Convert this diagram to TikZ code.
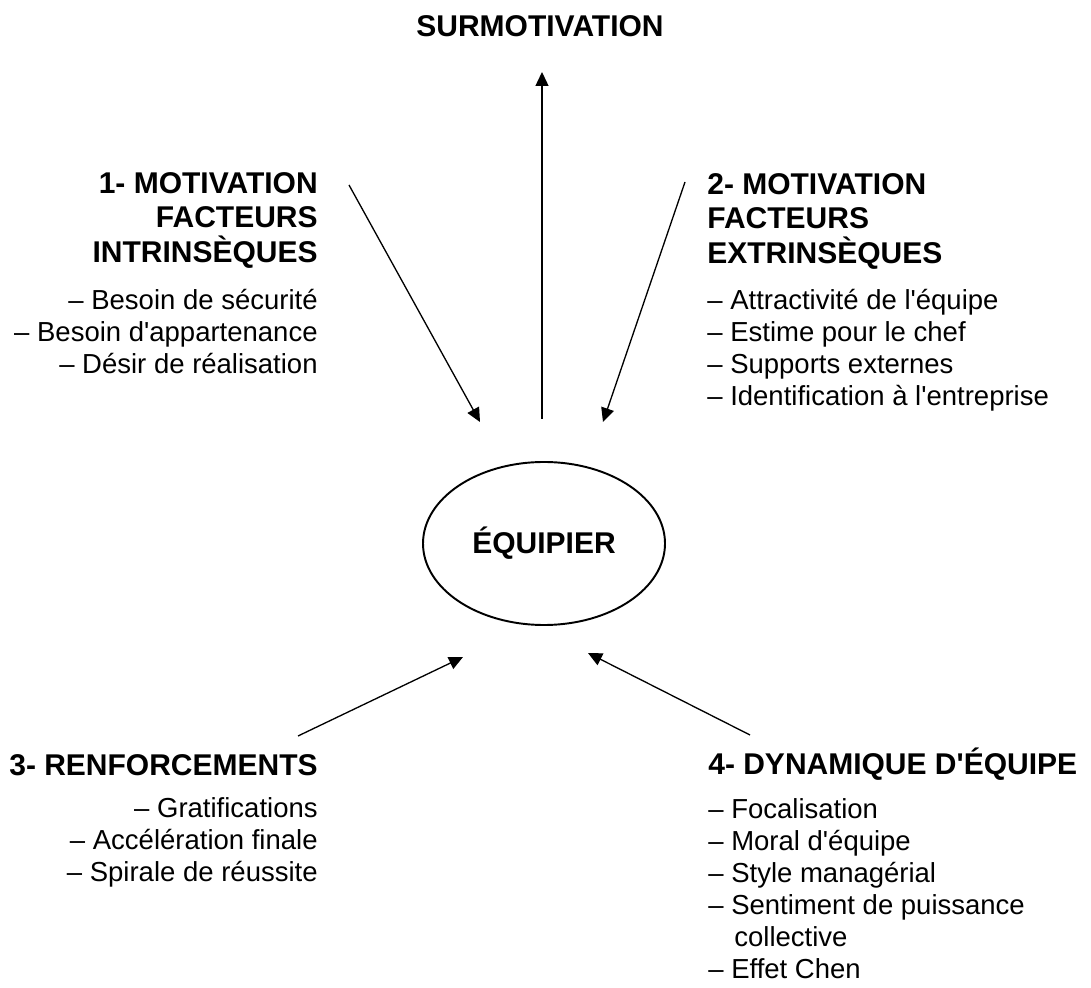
\documentclass[tikz,border=0pt]{standalone}
\usepackage{fontspec}
\setmainfont{Liberation Sans}[Ligatures=TeXOff]
\usepackage{tikz}
\usetikzlibrary{positioning,shapes,arrows.meta}
\tikzstyle{ell}=[draw, ellipse, minimum width = 4.84cm, minimum height = 3.26cm, inner sep = 0pt, line width = 1.1pt, font = \bfseries\fontsize{17.07}{19.63}\selectfont]
\tikzstyle{head}=[inner sep = 0pt, font = \bfseries\fontsize{17.07}{19.63}\selectfont]
\tikzstyle{lst}=[inner sep = 0pt, font = \fontsize{15.65}{18.21}\selectfont]
\tikzstyle{arr}=[-{Triangle[length=0.28cm, width=0.26cm]}, line width = 0.75pt]

\begin{document}
\begin{tikzpicture}
\useasboundingbox (0,0) rectangle (21.82,19.74);

\node[ell] at (10.88,8.87) (eq) {ÉQUIPIER};
\node[head, anchor=base] at (10.8,19.0) (sur) {SURMOTIVATION};

% 1- intrinseques
\node[head, align=right, anchor=north east] at (6.36,16.30) (head1) {1- MOTIVATION\\FACTEURS\\INTRINSÈQUES};
\node[lst, align=right, below left = 0.40cm and 0cm of head1.south east] (list1) {– Besoin de sécurité\\– Besoin d'appartenance\\– Désir de réalisation};

% 2- extrinseques
\node[head, align=left, anchor=north west] at (14.14,16.28) (head2) {2- MOTIVATION\\FACTEURS\\EXTRINSÈQUES};
\node[lst, align=left, below right = 0.38cm and 0cm of head2.south west] (list2) {– Attractivité de l'équipe\\– Estime pour le chef\\– Supports externes\\– Identification à l'entreprise};

% 3- renforcements
\node[head, anchor=base east] at (6.36,4.22) (head3) {3- RENFORCEMENTS};
\node[lst, align=right, below left = 0.41cm and 0cm of head3.south east] (list3) {– Gratifications\\– Accélération finale\\– Spirale de réussite};

% 4- dynamique
\node[head, anchor=base west] at (14.16,4.24) (head4) {4- DYNAMIQUE D'ÉQUIPE};
\node[lst, align=left, below right = 0.33cm and 0cm of head4.south west] (list4) {– Focalisation\\– Moral d'équipe\\– Style managérial\\– Sentiment de puissance\\\hspace*{0.52cm}collective\\– Effet Chen};

\coordinate (a0) at (10.84,11.36); \coordinate (b0) at (10.84,18.30);
\coordinate (a1) at (6.98,16.04);  \coordinate (b1) at (9.60,11.30);
\coordinate (a2) at (13.70,16.10); \coordinate (b2) at (12.06,11.30);
\coordinate (a3) at (5.96,5.02);   \coordinate (b3) at (9.26,6.60);
\coordinate (a4) at (15.00,5.04);  \coordinate (b4) at (11.76,6.68);

\draw[arr] (a0) -- (b0);
\draw[arr] (a1) -- (b1);
\draw[arr] (a2) -- (b2);
\draw[arr] (a3) -- (b3);
\draw[arr] (a4) -- (b4);
\end{tikzpicture}
\end{document}
